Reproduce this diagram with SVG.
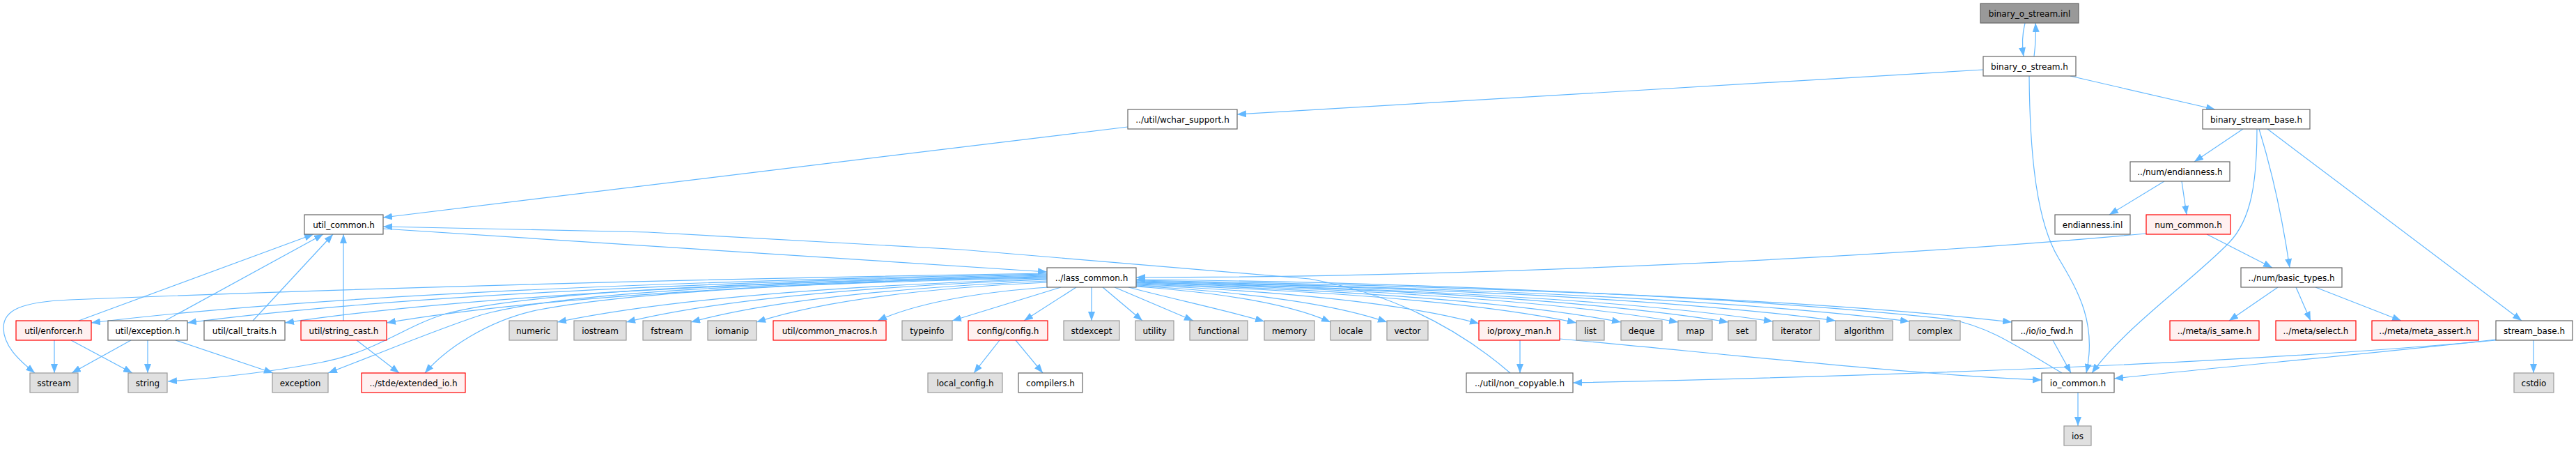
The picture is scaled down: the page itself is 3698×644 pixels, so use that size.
<svg xmlns="http://www.w3.org/2000/svg" width="3698" height="644" viewBox="0 0 3698 644">
<style>
.e{fill:none;stroke:#63b8ff;stroke-width:1.2;marker-end:url(#ah)}
.n rect{stroke-width:1.2}
.w rect{fill:#ffffff;stroke:#666666}
.g rect{fill:#e0e0e0;stroke:#999999}
.r rect{fill:#fff0f0;stroke:#ff0000}
.root rect{fill:#999999;stroke:#666666}
text{font-family:"DejaVu Sans","Liberation Sans",sans-serif;font-size:12px;fill:#000000;text-anchor:middle}
</style>
<defs>
<marker id="ah" viewBox="0 0 13 10" refX="13" refY="5" markerWidth="13" markerHeight="10" markerUnits="userSpaceOnUse" orient="auto">
<path d="M0,0 L13,5 L0,10 z" fill="#63b8ff"/>
</marker>
</defs>
<rect width="3698" height="644" fill="#ffffff"/>
<g id="edges">
<path class="e" d="M2907,33 C2904,45 2902,62 2905,81"/>
<path class="e" d="M2920,81 C2922,65 2923,50 2922,33"/>
<path class="e" d="M2847,100 L1776,164"/>
<path class="e" d="M2913,109 C2914,230 2925,320 2955,370 C2985,420 3010,465 2995,535"/>
<path class="e" d="M2972,109 L3180,157"/>
<path class="e" d="M1619,182 L550,312"/>
<path class="e" d="M550,328 L1503,390"/>
<path class="e" d="M2168,535 C2110,485 2020,425 1880,400 L1380,358 L930,333 L550,325"/>
<path class="e" d="M3220,185 L3150,232"/>
<path class="e" d="M3240,185 C3240,260 3232,315 3200,348 C3150,400 3050,470 3003,535"/>
<path class="e" d="M3243,185 C3260,240 3276,310 3287,384"/>
<path class="e" d="M3255,185 L3620,460"/>
<path class="e" d="M3107,260 L3028,308"/>
<path class="e" d="M3132,260 L3139,308"/>
<path class="e" d="M3168,336 L3262,384"/>
<path class="e" d="M3081,335 C2700,370 2100,398 1631,398"/>
<path class="e" d="M2960,535 C2900,500 2860,470 2800,458 C2500,425 2000,404 1631,401"/>
<path class="e" d="M1631,402 C2071,410 2574,426 2888,462"/>
<path class="e" d="M2947,488 L2973,535"/>
<path class="e" d="M2983,563 L2983,611"/>
<path class="e" d="M2239,486 C2450,505 2750,538 2931,545"/>
<path class="e" d="M3583,487 C3400,508 3200,525 3035,543"/>
<path class="e" d="M3583,488 C3300,514 2900,535 2258,549"/>
<path class="e" d="M3637,488 L3637,535"/>
<path class="e" d="M3270,412 L3200,460"/>
<path class="e" d="M3296,412 L3317,460"/>
<path class="e" d="M3324,412 L3447,460"/>
<path class="e" d="M2182,488 L2182,535"/>
<path class="e" d="M1435,488 L1398,535"/>
<path class="e" d="M1458,488 L1497,535"/>
<path class="e" d="M512,488 L573,535"/>
<path class="e" d="M493,460 L493,336"/>
<path class="e" d="M363,460 L478,336"/>
<path class="e" d="M237,460 L464,336"/>
<path class="e" d="M113,460 L450,336"/>
<path class="e" d="M78,488 L78,535"/>
<path class="e" d="M102,488 L190,535"/>
<path class="e" d="M188,488 L103,535"/>
<path class="e" d="M212,488 L212,535"/>
<path class="e" d="M252,488 L392,535"/>
<path class="e" d="M1503,393 C1023,402 474,421 131,463"/>
<path class="e" d="M1503,394 C1071,403 578,422 269,463"/>
<path class="e" d="M1503,395 C1120,404 683,422 409,463"/>
<path class="e" d="M1503,396 C1171,405 792,423 555,463"/>
<path class="e" d="M1503,400 C1257,408 976,425 800,462"/>
<path class="e" d="M1503,401 C1292,409 1050,425 899,462"/>
<path class="e" d="M1503,403 C1324,411 1120,427 992,462"/>
<path class="e" d="M1503,405 C1357,412 1190,428 1086,462"/>
<path class="e" d="M1505,412 C1418,418 1321,432 1260,460"/>
<path class="e" d="M1523,412 L1367,460"/>
<path class="e" d="M1545,412 L1470,460"/>
<path class="e" d="M1503,392 C1000,400 500,414 100,430 C30,433 5,445 5,470 C5,495 25,515 50,535"/>
<path class="e" d="M1503,397 C1100,403 760,418 640,450 C580,468 540,505 460,520 C380,535 300,543 241,547"/>
<path class="e" d="M1503,398 C1100,405 800,420 690,452 C620,475 550,505 471,535"/>
<path class="e" d="M1503,399 C1150,405 900,420 770,445 C700,460 640,500 610,535"/>
<path class="e" d="M1567,412 L1567,460"/>
<path class="e" d="M1583,412 L1640,460"/>
<path class="e" d="M1600,412 L1713,460"/>
<path class="e" d="M1620,412 C1680,428 1760,445 1815,461"/>
<path class="e" d="M1631,411 C1729,418 1840,431 1910,462"/>
<path class="e" d="M1631,410 C1757,417 1901,431 1991,462"/>
<path class="e" d="M1631,409 C1803,416 2000,431 2123,464"/>
<path class="e" d="M1631,408 C1852,415 2105,430 2263,463"/>
<path class="e" d="M1631,407 C1875,414 2153,429 2327,462"/>
<path class="e" d="M1631,406 C1903,413 2215,428 2409,462"/>
<path class="e" d="M1631,405 C1929,412 2269,428 2481,462"/>
<path class="e" d="M1631,405 C1951,412 2317,427 2545,461"/>
<path class="e" d="M1631,404 C1982,411 2384,426 2635,460"/>
<path class="e" d="M1631,403 C2020,411 2463,426 2741,461"/>
</g>
<g id="node-binary_o_stream_inl" class="n root"><rect x="2843" y="5" width="141" height="28"/><text x="2913.5" y="23.5">binary_o_stream.inl</text></g>
<g id="node-binary_o_stream_h" class="n w"><rect x="2847" y="81" width="133" height="28"/><text x="2913.5" y="99.5">binary_o_stream.h</text></g>
<g id="node-wchar_support" class="n w"><rect x="1619" y="157" width="157" height="28"/><text x="1697.5" y="175.5">../util/wchar_support.h</text></g>
<g id="node-binary_stream_base" class="n w"><rect x="3162" y="157" width="154" height="28"/><text x="3239" y="175.5">binary_stream_base.h</text></g>
<g id="node-endianness_h" class="n w"><rect x="3058" y="232" width="143" height="28"/><text x="3129.5" y="250.5">../num/endianness.h</text></g>
<g id="node-util_common" class="n w"><rect x="437" y="308" width="113" height="28"/><text x="493.5" y="326.5">util_common.h</text></g>
<g id="node-endianness_inl" class="n w"><rect x="2950" y="308" width="108" height="28"/><text x="3004" y="326.5">endianness.inl</text></g>
<g id="node-num_common" class="n r"><rect x="3081" y="308" width="121" height="28"/><text x="3141.5" y="326.5">num_common.h</text></g>
<g id="node-lass_common" class="n w"><rect x="1503" y="384" width="128" height="28"/><text x="1567" y="402.5">../lass_common.h</text></g>
<g id="node-basic_types" class="n w"><rect x="3217" y="384" width="145" height="28"/><text x="3289.5" y="402.5">../num/basic_types.h</text></g>
<g id="node-enforcer" class="n r"><rect x="23" y="460" width="108" height="28"/><text x="77" y="478.5">util/enforcer.h</text></g>
<g id="node-exception_h" class="n w"><rect x="155" y="460" width="114" height="28"/><text x="212" y="478.5">util/exception.h</text></g>
<g id="node-call_traits" class="n w"><rect x="293" y="460" width="116" height="28"/><text x="351" y="478.5">util/call_traits.h</text></g>
<g id="node-string_cast" class="n r"><rect x="432" y="460" width="123" height="28"/><text x="493.5" y="478.5">util/string_cast.h</text></g>
<g id="node-numeric" class="n g"><rect x="731" y="460" width="69" height="28"/><text x="765.5" y="478.5">numeric</text></g>
<g id="node-iostream" class="n g"><rect x="824" y="460" width="75" height="28"/><text x="861.5" y="478.5">iostream</text></g>
<g id="node-fstream" class="n g"><rect x="923" y="460" width="69" height="28"/><text x="957.5" y="478.5">fstream</text></g>
<g id="node-iomanip" class="n g"><rect x="1016" y="460" width="70" height="28"/><text x="1051" y="478.5">iomanip</text></g>
<g id="node-common_macros" class="n r"><rect x="1110" y="460" width="162" height="28"/><text x="1191" y="478.5">util/common_macros.h</text></g>
<g id="node-typeinfo" class="n g"><rect x="1295" y="460" width="72" height="28"/><text x="1331" y="478.5">typeinfo</text></g>
<g id="node-config" class="n r"><rect x="1390" y="460" width="114" height="28"/><text x="1447" y="478.5">config/config.h</text></g>
<g id="node-stdexcept" class="n g"><rect x="1527" y="460" width="80" height="28"/><text x="1567" y="478.5">stdexcept</text></g>
<g id="node-utility" class="n g"><rect x="1630" y="460" width="55" height="28"/><text x="1657.5" y="478.5">utility</text></g>
<g id="node-functional" class="n g"><rect x="1708" y="460" width="83" height="28"/><text x="1749.5" y="478.5">functional</text></g>
<g id="node-memory" class="n g"><rect x="1815" y="460" width="72" height="28"/><text x="1851" y="478.5">memory</text></g>
<g id="node-locale" class="n g"><rect x="1910" y="460" width="58" height="28"/><text x="1939" y="478.5">locale</text></g>
<g id="node-vector" class="n g"><rect x="1991" y="460" width="59" height="28"/><text x="2020.5" y="478.5">vector</text></g>
<g id="node-proxy_man" class="n r"><rect x="2123" y="460" width="116" height="28"/><text x="2181" y="478.5">io/proxy_man.h</text></g>
<g id="node-list" class="n g"><rect x="2263" y="460" width="40" height="28"/><text x="2283" y="478.5">list</text></g>
<g id="node-deque" class="n g"><rect x="2327" y="460" width="59" height="28"/><text x="2356.5" y="478.5">deque</text></g>
<g id="node-map" class="n g"><rect x="2409" y="460" width="49" height="28"/><text x="2433.5" y="478.5">map</text></g>
<g id="node-set" class="n g"><rect x="2481" y="460" width="40" height="28"/><text x="2501" y="478.5">set</text></g>
<g id="node-iterator" class="n g"><rect x="2545" y="460" width="67" height="28"/><text x="2578.5" y="478.5">iterator</text></g>
<g id="node-algorithm" class="n g"><rect x="2635" y="460" width="82" height="28"/><text x="2676" y="478.5">algorithm</text></g>
<g id="node-complex" class="n g"><rect x="2741" y="460" width="73" height="28"/><text x="2777.5" y="478.5">complex</text></g>
<g id="node-io_fwd" class="n w"><rect x="2888" y="460" width="101" height="28"/><text x="2938.5" y="478.5">../io/io_fwd.h</text></g>
<g id="node-is_same" class="n r"><rect x="3115" y="460" width="128" height="28"/><text x="3179" y="478.5">../meta/is_same.h</text></g>
<g id="node-select" class="n r"><rect x="3267" y="460" width="115" height="28"/><text x="3324.5" y="478.5">../meta/select.h</text></g>
<g id="node-meta_assert" class="n r"><rect x="3405" y="460" width="153" height="28"/><text x="3481.5" y="478.5">../meta/meta_assert.h</text></g>
<g id="node-stream_base" class="n w"><rect x="3583" y="460" width="110" height="28"/><text x="3638" y="478.5">stream_base.h</text></g>
<g id="node-sstream" class="n g"><rect x="43" y="535" width="69" height="28"/><text x="77.5" y="553.5">sstream</text></g>
<g id="node-string" class="n g"><rect x="184" y="535" width="56" height="28"/><text x="212" y="553.5">string</text></g>
<g id="node-exception" class="n g"><rect x="391" y="535" width="80" height="28"/><text x="431" y="553.5">exception</text></g>
<g id="node-extended_io" class="n r"><rect x="519" y="535" width="149" height="28"/><text x="593.5" y="553.5">../stde/extended_io.h</text></g>
<g id="node-local_config" class="n g"><rect x="1332" y="535" width="107" height="28"/><text x="1385.5" y="553.5">local_config.h</text></g>
<g id="node-compilers" class="n w"><rect x="1462" y="535" width="92" height="28"/><text x="1508" y="553.5">compilers.h</text></g>
<g id="node-non_copyable" class="n w"><rect x="2105" y="535" width="153" height="28"/><text x="2181.5" y="553.5">../util/non_copyable.h</text></g>
<g id="node-io_common" class="n w"><rect x="2931" y="535" width="104" height="28"/><text x="2983" y="553.5">io_common.h</text></g>
<g id="node-cstdio" class="n g"><rect x="3609" y="535" width="57" height="28"/><text x="3637.5" y="553.5">cstdio</text></g>
<g id="node-ios" class="n g"><rect x="2963" y="611" width="39" height="28"/><text x="2982.5" y="629.5">ios</text></g>
</svg>
